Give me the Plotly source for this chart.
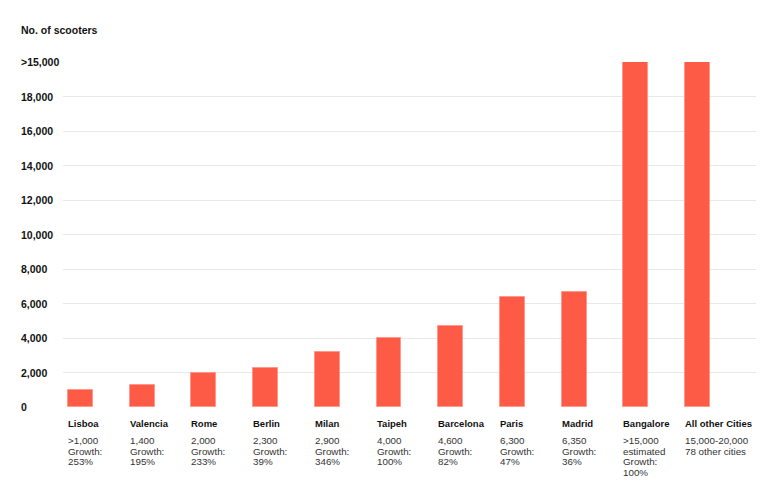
import plotly.graph_objects as go

cities = ["Lisboa", "Valencia", "Rome", "Berlin", "Milan", "Taipeh",
          "Barcelona", "Paris", "Madrid", "Bangalore", "All other Cities"]
scooters = [1000, 1280, 2000, 2280, 3180, 4000, 4720, 6370, 6680, 20000, 20000]
details = [
    [">1,000", "Growth:", "253%"],
    ["1,400", "Growth:", "195%"],
    ["2,000", "Growth:", "233%"],
    ["2,300", "Growth:", "39%"],
    ["2,900", "Growth:", "346%"],
    ["4,000", "Growth:", "100%"],
    ["4,600", "Growth:", "82%"],
    ["6,300", "Growth:", "47%"],
    ["6,350", "Growth:", "36%"],
    [">15,000", "estimated", "Growth:", "100%"],
    ["15,000-20,000", "78 other cities"],
]
tick_vals = [0, 2000, 4000, 6000, 8000, 10000, 12000, 14000, 16000, 18000, 20000]
tick_text = ["0", "2,000", "4,000", "6,000", "8,000", "10,000", "12,000",
             "14,000", "16,000", "18,000", ">15,000"]

FONT = "Liberation Sans, Arial, sans-serif"
BAR_W = 0.405
L, R, T, B = 63, 24, 62, 96
W, H = 780, 503
PLOT_W = W - L - R

fig = go.Figure()
fig.add_trace(go.Bar(
    x=list(range(len(cities))), y=scooters, width=BAR_W,
    marker=dict(color="#fd5b46", line=dict(color="rgba(255,150,135,0.9)", width=1)),
    hoverinfo="y",
))

ann = []
# title
ann.append(dict(text="<b>No. of scooters</b>", xref="paper", yref="paper",
                x=(21 - L) / PLOT_W, y=1, xanchor="left", yanchor="middle",
                xshift=-2, yshift=T - 30, showarrow=False,
                font=dict(family=FONT, size=10.5, color="#111")))
# y tick labels (left aligned)
for v, t in zip(tick_vals, tick_text):
    ann.append(dict(text="<b>%s</b>" % t, xref="paper", yref="y",
                    x=(21 - L) / PLOT_W, y=v, xanchor="left", yanchor="middle",
                    xshift=-2, showarrow=False,
                    font=dict(family=FONT, size=10.5, color="#111")))
# category labels
for i, (c, d) in enumerate(zip(cities, details)):
    xl = i - BAR_W / 2
    ann.append(dict(text="<b>%s</b>" % c, xref="x", yref="paper", x=xl, y=0,
                    xanchor="left", yanchor="middle", xshift=-2, yshift=-16,
                    showarrow=False,
                    font=dict(family=FONT, size=9.5, color="#111")))
    for j, line in enumerate(d):
        ann.append(dict(text=line, xref="x", yref="paper", x=xl, y=0,
                        xanchor="left", yanchor="middle", xshift=-2,
                        yshift=-(33.5 + 10.7 * j), showarrow=False,
                        font=dict(family=FONT, size=9.8, color="#333")))

px_per_cat = 61.7
x0 = 80.5
fig.update_layout(
    width=W, height=H,
    margin=dict(l=L, r=R, t=T, b=B),
    paper_bgcolor="white", plot_bgcolor="white",
    showlegend=False,
    xaxis=dict(range=[-(x0 - L) / px_per_cat, (W - R - x0) / px_per_cat],
               showticklabels=False, showgrid=False, zeroline=False,
               showline=False, ticks=""),
    yaxis=dict(range=[0, 20000], tickvals=tick_vals, showticklabels=False,
               showgrid=True, gridcolor="#e8e8e8", gridwidth=1,
               zeroline=False, showline=False, ticks=""),
    annotations=ann,
    bargap=0,
)
fig.write_html("out.html")
